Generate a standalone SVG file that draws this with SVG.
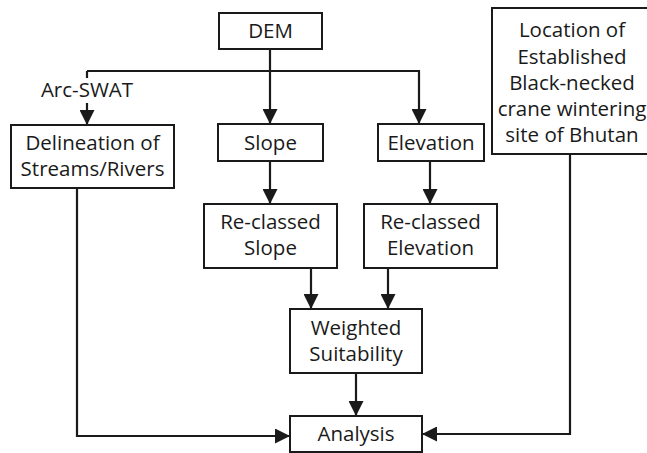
<svg xmlns="http://www.w3.org/2000/svg" width="647" height="453" viewBox="0 0 647 453">
<style>
.box{fill:#fff;stroke:#1a1a1a;stroke-width:2}
.t{font-family:"Open Sans","Noto Sans",sans-serif;font-size:20.5px;fill:#1a1a1a;text-anchor:middle}
.c{fill:none;stroke:#1a1a1a;stroke-width:2.2}
</style>
<defs>
<marker id="ah" viewBox="0 0 15 15" refX="15" refY="7.5" markerWidth="15" markerHeight="15" markerUnits="userSpaceOnUse" orient="auto">
<path d="M0,0 L15,7.5 L0,15 Z" fill="#1a1a1a"/>
</marker>
</defs>
<rect width="647" height="453" fill="#fff"/>
<g id="connectors">
<path class="c" d="M270,49 V124" marker-end="url(#ah)"/>
<path class="c" d="M87,71 H419 V124" marker-end="url(#ah)"/>
<path class="c" d="M87,71 V78"/>
<path class="c" d="M87,103 V125" marker-end="url(#ah)"/>
<path class="c" d="M270,161 V204" marker-end="url(#ah)"/>
<path class="c" d="M430,161 V204" marker-end="url(#ah)"/>
<path class="c" d="M311,268 V309" marker-end="url(#ah)"/>
<path class="c" d="M388,268 V309" marker-end="url(#ah)"/>
<path class="c" d="M356,373 V416" marker-end="url(#ah)"/>
<path class="c" d="M77,188 V436 H290" marker-end="url(#ah)"/>
<path class="c" d="M570,154 V434 H422" marker-end="url(#ah)"/>
</g>
<text class="t" x="87" y="97">Arc-SWAT</text>
<g id="dem"><rect class="box" x="219" y="13" width="103" height="36"/><text class="t" x="270.5" y="38">DEM</text></g>
<g id="delineation"><rect class="box" x="11" y="125" width="163" height="63"/><text class="t" x="92.5" y="150">Delineation of</text><text class="t" x="92.5" y="176">Streams/Rivers</text></g>
<g id="slope"><rect class="box" x="218" y="124" width="105" height="37"/><text class="t" x="270.5" y="150">Slope</text></g>
<g id="elevation"><rect class="box" x="378" y="124" width="106" height="37"/><text class="t" x="431" y="150">Elevation</text></g>
<g id="location"><rect class="box" x="492" y="8" width="160" height="146"/><text class="t" x="572" y="37">Location of</text><text class="t" x="572" y="64">Established</text><text class="t" x="572" y="90">Black-necked</text><text class="t" x="572" y="116">crane wintering</text><text class="t" x="572" y="142">site of Bhutan</text></g>
<g id="reclassed-slope"><rect class="box" x="204" y="204" width="133" height="64"/><text class="t" x="270.5" y="229">Re-classed</text><text class="t" x="270.5" y="255">Slope</text></g>
<g id="reclassed-elevation"><rect class="box" x="364" y="204" width="133" height="64"/><text class="t" x="430.5" y="229">Re-classed</text><text class="t" x="430.5" y="255">Elevation</text></g>
<g id="weighted"><rect class="box" x="290" y="309" width="132" height="64"/><text class="t" x="356" y="335">Weighted</text><text class="t" x="356" y="361">Suitability</text></g>
<g id="analysis"><rect class="box" x="290" y="416" width="132" height="36"/><text class="t" x="356" y="441">Analysis</text></g>
</svg>
